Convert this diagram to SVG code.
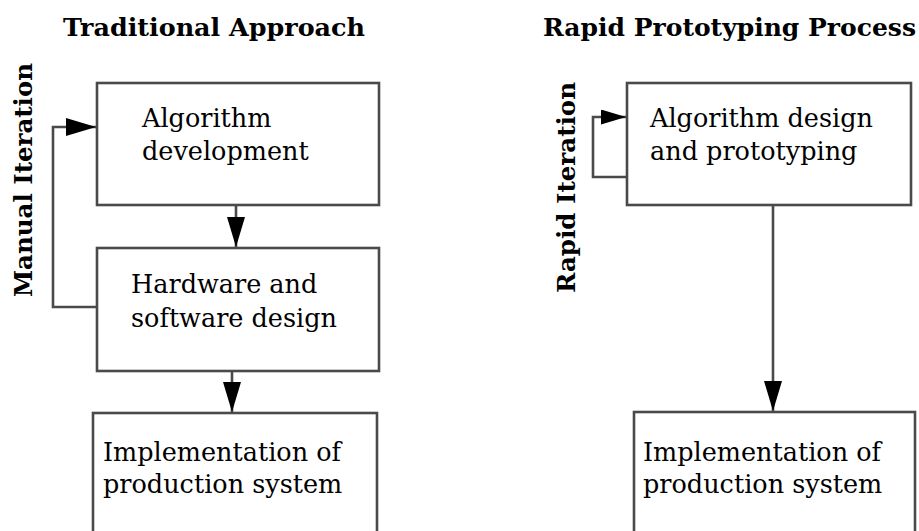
<svg xmlns="http://www.w3.org/2000/svg" width="919" height="531" viewBox="0 0 919 531">
<style>
.box{fill:#fff;stroke:#4a4a4a;stroke-width:2.6}
.ln{fill:none;stroke:#4a4a4a;stroke-width:2.6}
.t{font-family:"DejaVu Serif","Liberation Serif",serif;font-size:25.5px;fill:#000}
.h{font-family:"DejaVu Serif","Liberation Serif",serif;font-size:24px;font-weight:bold;fill:#000}
</style>
<defs>
<marker id="ah" markerUnits="userSpaceOnUse" markerWidth="30" markerHeight="18" refX="30" refY="9" orient="auto">
<path d="M0,0 L30,9 L0,18 Z" fill="#000"/>
</marker>
<marker id="ahs" markerUnits="userSpaceOnUse" markerWidth="25" markerHeight="15" refX="25" refY="7.5" orient="auto">
<path d="M0,0 L25,7.5 L0,15 Z" fill="#000"/>
</marker>
</defs>
<rect width="919" height="531" fill="#fff"/>
<text class="h" x="63" y="36" textLength="302" lengthAdjust="spacingAndGlyphs">Traditional Approach</text>
<text class="h" x="543" y="36" textLength="373" lengthAdjust="spacingAndGlyphs">Rapid Prototyping Process</text>
<text class="h" transform="translate(32,297) rotate(-90)" textLength="234" lengthAdjust="spacingAndGlyphs">Manual Iteration</text>
<text class="h" transform="translate(575,293) rotate(-90)" textLength="211" lengthAdjust="spacingAndGlyphs">Rapid Iteration</text>
<g id="connectors">
<path class="ln" d="M236,205 V247" marker-end="url(#ah)"/>
<path class="ln" d="M232,371 V412" marker-end="url(#ah)"/>
<path class="ln" d="M97,307 H53 V127 H96" marker-end="url(#ah)"/>
<path class="ln" d="M773,205 V411" marker-end="url(#ah)"/>
<path class="ln" d="M627,177 H593 V117 H626" marker-end="url(#ahs)"/>
</g>
<g id="alg-dev">
<rect class="box" x="97" y="83" width="282" height="122"/>
<text class="t" x="142" y="127">Algorithm</text>
<text class="t" x="142" y="160">development</text>
</g>
<g id="hw-sw">
<rect class="box" x="97" y="248" width="282" height="123"/>
<text class="t" x="131" y="293">Hardware and</text>
<text class="t" x="131" y="327">software design</text>
</g>
<g id="impl-left">
<rect class="box" x="93" y="413" width="284" height="160"/>
<text class="t" x="103" y="461">Implementation of</text>
<text class="t" x="103" y="493">production system</text>
</g>
<g id="alg-proto">
<rect class="box" x="627" y="83" width="284" height="122"/>
<text class="t" x="650" y="127">Algorithm design</text>
<text class="t" x="650" y="160">and prototyping</text>
</g>
<g id="impl-right">
<rect class="box" x="634" y="412" width="281" height="160"/>
<text class="t" x="643" y="461">Implementation of</text>
<text class="t" x="643" y="493">production system</text>
</g>
</svg>
